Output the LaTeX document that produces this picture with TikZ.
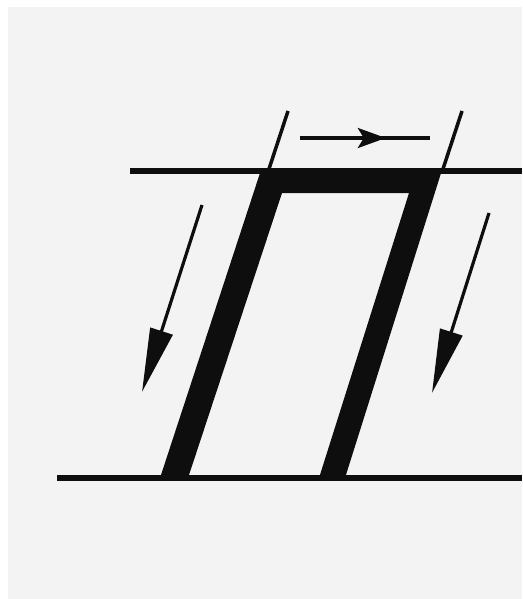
\documentclass[tikz,border=0pt]{standalone}
\usepackage{xcolor}
\usepackage{tikz}
\usetikzlibrary{arrows.meta, decorations.markings}
\definecolor{paperbg}{HTML}{F3F3F4}
\definecolor{inkblack}{HTML}{0E0E0E}

\begin{document}
\begin{tikzpicture}[x=1pt, y=-1pt,
    guide/.style={draw=inkblack, line width=6pt},
    slant/.style={draw=inkblack, line width=3.5pt},
    flow/.style={draw=inkblack, line width=3.2pt,
                 -{Triangle[length=64pt, width=23pt]}},
    widthline/.style={draw=inkblack, line width=3.2pt, postaction=decorate,
                 decoration={markings, mark=at position 0.66 with
                 {\arrow{Stealth[length=28pt, width=20pt, inset=6pt]}}}}]
    % paper
    \fill[white] (0,0) rectangle (522,599);
    \fill[paperbg] (8,7) rectangle (522,599);
    \useasboundingbox (0,0) rectangle (522,599);

    % ruling lines
    \coordinate (topL) at (130,171);
    \coordinate (topR) at (522,171);
    \coordinate (botL) at (57,478);
    \coordinate (botR) at (522,478);
    \draw[guide] (topL) -- (topR);
    \draw[guide] (botL) -- (botR);

    % slanted letter
    \fill[inkblack] (160,478) -- (261,170) -- (442,170) -- (345,478)
        -- (319,478) -- (409,193) -- (282,193) -- (188,478) -- cycle;

    % slant guides and width
    \coordinate (slantA) at (288,111);
    \coordinate (slantA0) at (268,172);
    \coordinate (slantB) at (462,111);
    \coordinate (slantB0) at (442,172);
    \draw[slant] (slantA) -- (slantA0);
    \draw[slant] (slantB) -- (slantB0);
    \coordinate (wStart) at (300,138);
    \coordinate (wEnd) at (430,138);
    \draw[widthline] (wStart) -- (wEnd);

    % direction of the strokes
    \coordinate (dirA) at (202,205);
    \coordinate (dirA0) at (142,392);
    \coordinate (dirB) at (489,213);
    \coordinate (dirB0) at (432,393);
    \draw[flow] (dirA) -- (dirA0);
    \draw[flow] (dirB) -- (dirB0);
\end{tikzpicture}
\end{document}
